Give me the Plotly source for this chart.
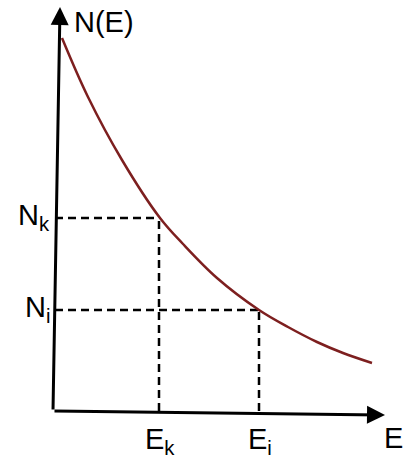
import plotly.graph_objects as go

# Curve N(E) (abstract units, origin at axes corner)
energy = [9, 35, 69, 107, 130, 164, 206, 235, 264, 290, 319]
population = [373, 314, 251, 193, 167, 133, 101, 84, 69, 58, 48]

# Marked levels
E_k, N_k = 106, 193
E_i, N_i = 206, 101

# Axis tips
x_axis_tip = (332, -4)
y_axis_tip = (7, 404)

tick_labels_x = ["E<sub>k</sub>", "E<sub>i</sub>"]
tick_labels_y = ["N<sub>k</sub>", "N<sub>i</sub>"]
axis_title_x = "E"
axis_title_y = "N(E)"

FONT = "Liberation Sans, Arial, sans-serif"
FS = 29

fig = go.Figure()

# dashed guides
dash_style = dict(color="black", width=2.5, dash="8px,5px")
for ex, ny in [(E_k, N_k), (E_i, N_i)]:
    fig.add_trace(go.Scatter(x=[2, ex], y=[ny, ny], mode="lines", line=dash_style,
                             hoverinfo="skip", showlegend=False))
    fig.add_trace(go.Scatter(x=[ex, ex], y=[0, ny], mode="lines", line=dash_style,
                             hoverinfo="skip", showlegend=False))

# the curve
fig.add_trace(go.Scatter(x=energy, y=population, mode="lines",
                         line=dict(color="#7d1f1f", width=2.5, shape="spline", smoothing=1.0),
                         showlegend=False))

annotations = []
# axes as arrows
for tip in (x_axis_tip, y_axis_tip):
    annotations.append(dict(x=tip[0], y=tip[1], ax=0, ay=0, xref="x", yref="y",
                            axref="x", ayref="y", text="", showarrow=True,
                            arrowhead=2, arrowsize=1.2, arrowwidth=3, arrowcolor="black",
                            standoff=0, startstandoff=0))

font = dict(family=FONT, size=FS, color="black")
# axis titles
annotations.append(dict(x=19, y=389, xref="x", yref="y", text=axis_title_y, showarrow=False,
                        xanchor="left", yanchor="middle", font=font))
annotations.append(dict(x=340, y=-27, xref="x", yref="y", text=axis_title_x, showarrow=False,
                        xanchor="center", yanchor="middle", font=font))
# tick labels on x
for val, lab in zip([E_k, E_i], tick_labels_x):
    annotations.append(dict(x=val + 1, y=-10, xref="x", yref="y", text=lab, showarrow=False,
                            xanchor="center", yanchor="top", font=font))
# tick labels on y
for val, lab in zip([N_k, N_i], tick_labels_y):
    annotations.append(dict(x=-1, y=val + 1, xref="x", yref="y", text=lab, showarrow=False,
                            xanchor="right", yanchor="middle", font=font))

fig.update_layout(
    width=409, height=459,
    margin=dict(l=0, r=0, t=0, b=0),
    paper_bgcolor="white", plot_bgcolor="white",
    xaxis=dict(range=[-53, 356], visible=False, fixedrange=True),
    yaxis=dict(range=[-48, 411], visible=False, fixedrange=True),
    annotations=annotations,
    showlegend=False,
)

fig.write_html("out.html")
